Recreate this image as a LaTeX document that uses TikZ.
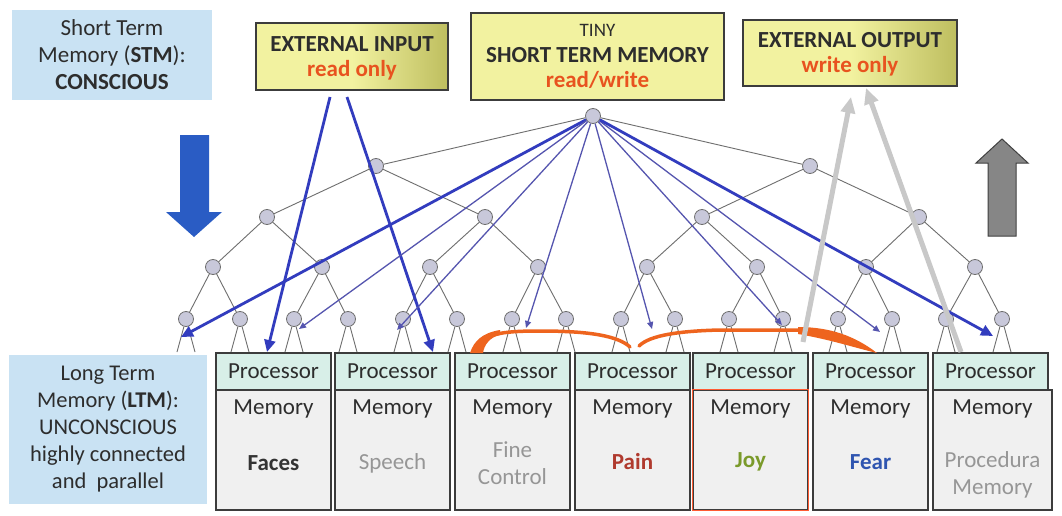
\documentclass[tikz,border=0pt]{standalone}
\usepackage{fontspec}
\setmainfont{Carlito}
\usetikzlibrary{arrows.meta,calc}
\definecolor{lblue}{RGB}{201,226,243}
\definecolor{txt}{RGB}{45,45,45}
\definecolor{ored}{RGB}{232,83,31}
\definecolor{yel}{RGB}{242,242,160}
\definecolor{olive}{RGB}{190,190,95}
\definecolor{proc}{RGB}{216,239,232}
\definecolor{memf}{RGB}{240,240,240}
\definecolor{bord}{RGB}{60,60,60}
\definecolor{painc}{RGB}{176,58,46}
\definecolor{joyc}{RGB}{122,154,42}
\definecolor{fearc}{RGB}{47,85,176}
\definecolor{greyt}{RGB}{150,150,150}
\definecolor{arrb}{RGB}{50,60,190}
\definecolor{arrt}{RGB}{85,85,175}
\definecolor{tnodef}{RGB}{200,200,218}
\definecolor{tedgec}{RGB}{110,110,110}
\definecolor{orng}{RGB}{238,100,30}
\definecolor{garr}{RGB}{200,200,200}
\definecolor{downb}{RGB}{42,92,196}
\begin{document}
\begin{tikzpicture}[x=1pt,y=-1pt,
  every node/.style={font=\fontsize{23}{27}\selectfont, text=txt},
  tnode/.style={circle, draw=tedgec, fill=tnodef, line width=0.8pt, minimum size=15pt, inner sep=0pt},
  tedge/.style={draw=tedgec, line width=0.9pt},
  lblbox/.style={fill=lblue, draw=none, inner sep=0pt},
  ybox/.style={draw=bord, line width=1.3pt, inner sep=0pt},
  procbox/.style={draw=bord, fill=proc, line width=1.2pt, minimum width=115pt, minimum height=37pt, inner sep=0pt},
  membox/.style={draw=bord, fill=memf, line width=1.2pt, minimum width=115pt, minimum height=120pt, inner sep=0pt},
  thickblue/.style={draw=arrb, line width=2.8pt, -{Triangle[length=12pt,width=11pt]}},
  thinblue/.style={draw=arrt, line width=1.3pt, -{Triangle[length=7pt,width=6pt]}},
  grayarrow/.style={draw=garr, line width=5pt, -{Triangle[length=16pt,width=14pt]}},
  orangearc/.style={draw=orng, line width=3.5pt, line cap=round}
]
\useasboundingbox (0,0) rectangle (1062,516);
\fill[white] (0,0) rectangle (1062,516);

% left label boxes
\node[lblbox, minimum width=200pt, minimum height=90pt] (stmlbl) at (112,55) {};
\node[align=center] (stmtxt) at (112,55) {Short Term\\Memory (\textbf{STM}):\\\textbf{CONSCIOUS}};
\node[lblbox, minimum width=198pt, minimum height=149pt] (ltmlbl) at (108,429.5) {};
\node[align=center, font=\fontsize{22.5}{27}\selectfont] (ltmtxt) at (108,429.5) {Long Term\\Memory (\textbf{LTM}):\\UNCONSCIOUS\\highly connected\\and~ parallel};

% top boxes
\draw[ybox, left color=yel, right color=olive, middle color=yel] (256,23) rectangle (448,90);
\node[font=\fontsize{23}{27}\selectfont\bfseries] (eit) at (352,44) {EXTERNAL INPUT};
\node[font=\fontsize{23}{27}\selectfont\bfseries, text=ored] (eir) at (352,70) {read only};

\draw[ybox, fill=yel] (471,13) rectangle (724,100);
\node[font=\fontsize{19}{22}\selectfont] (stt) at (597.5,30) {TINY};
\node[font=\fontsize{23}{27}\selectfont\bfseries] (stm) at (597.5,55) {SHORT TERM MEMORY};
\node[font=\fontsize{23}{27}\selectfont\bfseries, text=ored] (str) at (597.5,80) {read/write};

\draw[ybox, left color=yel, right color=olive, middle color=yel] (743,20) rectangle (957,86);
\node[font=\fontsize{23}{27}\selectfont\bfseries] (eot) at (850,40) {EXTERNAL OUTPUT};
\node[font=\fontsize{23}{27}\selectfont\bfseries, text=ored] (eow) at (850,66) {write only};

% big arrows
\fill[downb] (180,135) -- (209,135) -- (209,212) -- (222,212) -- (194,237) -- (166,212) -- (180,212) -- cycle;
\filldraw[fill=gray!95!white, draw=black!75, line width=1pt] (988,236) -- (1016,236) -- (1016,163) -- (1028,163) -- (1002,139) -- (976,163) -- (988,163) -- cycle;

% tree
\node[tnode] (r) at (593,116) {};
\foreach \x [count=\i] in {376,810} \node[tnode] (a\i) at (\x,166) {};
\foreach \x [count=\i] in {267,485,702,919} \node[tnode] (b\i) at (\x,217) {};
\foreach \x [count=\i] in {213,322,430,538,647,757,866,975} \node[tnode] (c\i) at (\x,267) {};
\foreach \x [count=\i] in {186,240,294,348,403,457,512,566,621,675,729,783,838,892,946,1002} \node[tnode] (d\i) at (\x,319) {};
\draw[tedge] (r) -- (a1); \draw[tedge] (r) -- (a2);
\foreach \i in {1,2} {\pgfmathtruncatemacro\j{2*\i-1}\pgfmathtruncatemacro\k{2*\i}
  \draw[tedge] (a\i) -- (b\j); \draw[tedge] (a\i) -- (b\k);}
\foreach \i in {1,...,4} {\pgfmathtruncatemacro\j{2*\i-1}\pgfmathtruncatemacro\k{2*\i}
  \draw[tedge] (b\i) -- (c\j); \draw[tedge] (b\i) -- (c\k);}
\foreach \i in {1,...,8} {\pgfmathtruncatemacro\j{2*\i-1}\pgfmathtruncatemacro\k{2*\i}
  \draw[tedge] (c\i) -- (d\j); \draw[tedge] (c\i) -- (d\k);}
\foreach \i in {1,...,16} {
  \draw[tedge] ($(d\i)+(-9,33)$) -- (d\i) -- ($(d\i)+(9,33)$);}

% processor / memory columns
\foreach \l [count=\i] in {216,335,455,575,693,813,933} {
  \node[procbox] (p\i) at (\l+57.5,371.5) {Processor};
}
\foreach \l [count=\i] in {216,335,455,575,693,813} {
  \node[membox] (m\i) at (\l+57.5,450) {};
}
\node[membox, minimum width=119pt] (m7) at (992.5,450) {};
\draw[draw=red!60!orange!80!white, line width=1.2pt] (m5.north west) rectangle (m5.south east);
\foreach \i in {1,...,7} { \node (mt\i) at ($(m\i.north)+(0,20)$) {Memory}; }
\node[font=\fontsize{23}{27}\selectfont\bfseries, text=black!80] (l1) at ($(m1)+(0,13)$) {Faces};
\node[text=greyt] (l2) at ($(m2)+(0,13)$) {Speech};
\node[text=greyt, align=center] (l3) at ($(m3)+(0,13)$) {Fine\\Control};
\node[font=\fontsize{23}{27}\selectfont\bfseries, text=painc] (l4) at ($(m4)+(0,12)$) {Pain};
\node[font=\fontsize{23}{27}\selectfont\bfseries, text=joyc] (l5) at ($(m5)+(0,12)$) {Joy};
\node[font=\fontsize{23}{27}\selectfont\bfseries, text=fearc] (l6) at ($(m6)+(0,12)$) {Fear};
\node[text=greyt, align=center] (l7) at ($(m7)+(0,25)$) {Procedura\\Memory};

% blue arrows from external input
\coordinate (s1) at (330,97);
\coordinate (s2) at (347,97);
\coordinate (e1) at (267,352);
\coordinate (e2) at (433,352);
\draw[thickblue] (s1) -- (e1);
\draw[thickblue] (s2) -- (e2);

% blue arrows from root
\coordinate (t1) at (181,337);
\coordinate (t2) at (299,329);
\coordinate (t3) at (397,330);
\coordinate (t4) at (526,328);
\coordinate (t5) at (652,329);
\coordinate (t6) at (782,325);
\coordinate (t7) at (880,332);
\coordinate (t8) at (993,336);
\draw[thickblue] (r) -- (t1);
\foreach \i in {2,...,7} \draw[thinblue] (r) -- (t\i);
\draw[thickblue] (r) -- (t8);

% orange arcs
\draw[orangearc] (476,350) .. controls (482,334) and (500,331) .. (540,331) .. controls (590,331) and (618,336) .. (630,347);
\fill[orng] (470,353) .. controls (474,341) and (482,333) .. (500,330) -- (500,335) .. controls (490,337) and (484,345) .. (483,353) -- cycle;
\draw[orangearc] (639,346) .. controls (650,335) and (680,331) .. (720,330) -- (800,330);
\fill[orng] (798,327) .. controls (830,327) and (855,336) .. (877,353) .. controls (852,347) and (832,340) .. (798,334) -- cycle;

% gray arrows to external output
\coordinate (g1s) at (803,342);
\coordinate (g1e) at (851,97);
\coordinate (g2s) at (961,352);
\coordinate (g2e) at (866,88);
\draw[grayarrow] (g1s) -- (g1e);
\draw[grayarrow] (g2s) -- (g2e);
\end{tikzpicture}
\end{document}
